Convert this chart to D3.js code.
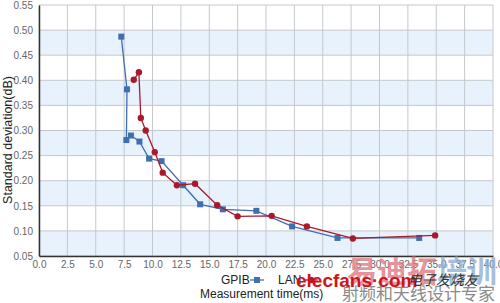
<!DOCTYPE html>
<html>
<head>
<meta charset="utf-8">
<script src="https://cdn.jsdelivr.net/npm/d3@7"></script>
<style>
  body { margin:0; background:#fff; }
  svg { display:block; }
  .tick text { font-family:"Liberation Sans Narrow","Liberation Sans",Arial,sans-serif; font-size:10px; fill:#666; }
  .lbl { font-family:"Liberation Sans",Arial,sans-serif; fill:#222; }
</style>
</head>
<body>
<div id="chart"></div>
<script>
// GPIB series (blue squares)
const gpibX = [7.25, 7.75, 7.7, 8.1, 8.85, 9.7, 10.8, 12.7, 14.2, 16.2, 19.15, 22.3, 26.3, 33.5];
const gpibY = [0.487, 0.382, 0.281, 0.290, 0.278, 0.244, 0.239, 0.191, 0.153, 0.143, 0.140, 0.109, 0.086, 0.086];
// LAN series (red circles)
const lanX = [8.35, 8.8, 8.97, 9.4, 10.2, 10.9, 12.15, 13.75, 15.7, 17.5, 20.5, 23.6, 27.65, 34.9];
const lanY = [0.401, 0.416, 0.325, 0.300, 0.257, 0.216, 0.191, 0.194, 0.151, 0.129, 0.130, 0.109, 0.085, 0.091];

const xTicks = d3.range(0, 40.01, 2.5);
const yTicks = d3.range(0.05, 0.5501, 0.05);
const yBands = [[0.45, 0.50], [0.35, 0.40], [0.25, 0.30], [0.15, 0.20], [0.05, 0.10]];

let width = 500, height = 303,
    margin = { top:5, right:7, left:39, bottom:47 },
    innerWidth = width - margin.left - margin.right,
    innerHeight = height - margin.top - margin.bottom;

let xScale = d3.scaleLinear().domain([0, 40]).range([0, innerWidth]);
let yScale = d3.scaleLinear().domain([0.05, 0.55]).range([innerHeight, 0]);

let svg = d3.select("#chart").append("svg").attr("width", width).attr("height", height);
let g = svg.append("g").attr("transform", `translate(${margin.left},${margin.top})`);

// alternating bands
g.selectAll(".band").data(yBands).enter().append("rect")
  .attr("x", 0).attr("width", innerWidth)
  .attr("y", d => yScale(d[1]))
  .attr("height", d => yScale(d[0]) - yScale(d[1]))
  .attr("fill", "#e8f2fc");

// grid
g.selectAll(".vg").data(xTicks).enter().append("line")
  .attr("x1", d => xScale(d)).attr("x2", d => xScale(d))
  .attr("y1", 0).attr("y2", innerHeight)
  .attr("stroke", "#c4c8cc").attr("stroke-width", 1);
g.selectAll(".hg").data(yTicks).enter().append("line")
  .attr("y1", d => yScale(d)).attr("y2", d => yScale(d))
  .attr("x1", 0).attr("x2", innerWidth)
  .attr("stroke", "#c4c8cc").attr("stroke-width", 1);

let xAxis = d3.axisBottom(xScale).tickValues(xTicks).tickFormat(d3.format(".1f")).tickSize(0).tickPadding(5);
let yAxis = d3.axisLeft(yScale).tickValues(yTicks).tickFormat(d3.format(".2f")).tickSize(0).tickPadding(6);

let xGroup = g.append("g").attr("transform", `translate(0,${innerHeight})`).call(xAxis);
xGroup.select(".domain").attr("stroke", "#333").attr("stroke-width", 1.5);
let yGroup = g.append("g").call(yAxis);
yGroup.select(".domain").attr("stroke", "#333").attr("stroke-width", 1.5);

function series(xs, ys, color, shape) {
  let pts = xs.map((x, i) => [x, ys[i]]);
  let line = d3.line().x(d => xScale(d[0])).y(d => yScale(d[1]));
  g.append("path").attr("d", line(pts)).attr("fill", "none")
    .attr("stroke", color).attr("stroke-width", 1.3);
  if (shape === "square") {
    g.selectAll(null).data(pts).enter().append("rect")
      .attr("x", d => xScale(d[0]) - 3).attr("y", d => yScale(d[1]) - 3)
      .attr("width", 6).attr("height", 6).attr("fill", color);
  } else {
    g.selectAll(null).data(pts).enter().append("circle")
      .attr("cx", d => xScale(d[0])).attr("cy", d => yScale(d[1]))
      .attr("r", 3.2).attr("fill", color);
  }
}
series(gpibX, gpibY, "#3f6faf", "square");
series(lanX, lanY, "#a8192e", "circle");

// axis titles
svg.append("text").attr("class", "lbl").attr("font-size", 12.5)
  .attr("transform", "translate(12,140) rotate(-90)").attr("text-anchor", "middle")
  .text("Standard deviation(dB)");
svg.append("text").attr("class", "lbl").attr("font-size", 12)
  .attr("x", 200).attr("y", 298).text("Measurement time(ms)");

// legend
svg.append("text").attr("class", "lbl").attr("font-size", 12).attr("x", 221).attr("y", 284).text("GPIB");
svg.append("line").attr("x1", 250).attr("x2", 264).attr("y1", 280).attr("y2", 280).attr("stroke", "#3f6faf").attr("stroke-width", 1.3);
svg.append("rect").attr("x", 254).attr("y", 277).attr("width", 6).attr("height", 6).attr("fill", "#3f6faf");
svg.append("text").attr("class", "lbl").attr("font-size", 12).attr("x", 278).attr("y", 284).text("LAN");
svg.append("line").attr("x1", 304).attr("x2", 318).attr("y1", 280).attr("y2", 280).attr("stroke", "#a8192e").attr("stroke-width", 1.3);
svg.append("circle").attr("cx", 311).attr("cy", 280).attr("r", 3.2).attr("fill", "#a8192e");

// watermark
let wm = svg.append("g").attr("font-family", "'Noto Sans CJK SC',sans-serif");
wm.append("text").attr("x", 347).attr("y", 282).attr("font-size", 30).attr("font-weight", "bold")
  .attr("fill", "#e07a84").attr("opacity", 0.8).text("易迪拓");
wm.append("text").attr("x", 437).attr("y", 282).attr("font-size", 30).attr("font-weight", "bold")
  .attr("fill", "#8fb0d4").attr("opacity", 0.8).text("培训");
wm.append("text").attr("x", 342).attr("y", 300).attr("font-size", 17)
  .attr("fill", "#8a8a8a").text("射频和天线设计专家");
wm.append("text").attr("x", 296).attr("y", 287).attr("font-size", 19).attr("font-weight", "bold")
  .attr("font-family", "'Liberation Sans',Arial,sans-serif").attr("fill", "#d0141c").text("elecfans·com");
wm.append("text").attr("x", 408).attr("y", 285).attr("font-size", 14).attr("font-style", "italic")
  .attr("fill", "#333").text("电子发烧友");
</script>
</body>
</html>
